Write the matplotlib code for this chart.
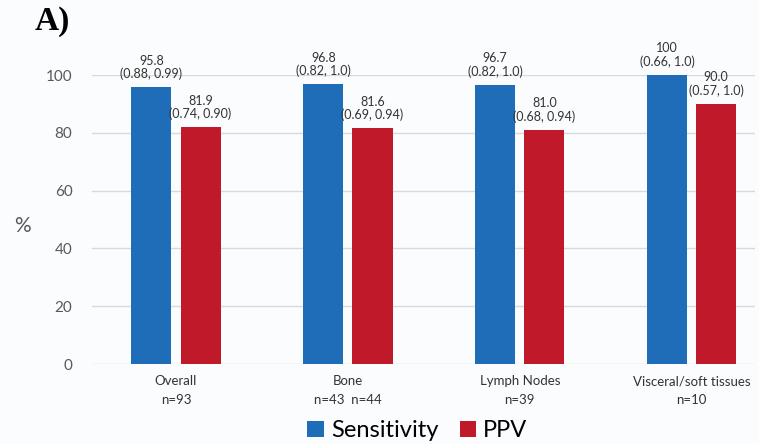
from matplotlib import pyplot as plt
import numpy as np

categories = ["Overall", "Bone", "Lymph Nodes", "Visceral/soft tissues"]
n_labels = ["n=93", "n=43  n=44", "n=39", "n=10"]
sensitivity = [95.8, 96.8, 96.7, 100]
ppv = [81.9, 81.6, 81.0, 90.0]
sens_labels = ["95.8\n(0.88, 0.99)", "96.8\n(0.82, 1.0)", "96.7\n(0.82, 1.0)", "100\n(0.66, 1.0)"]
ppv_labels = ["81.9\n(0.74, 0.90)", "81.6\n(0.69, 0.94)", "81.0\n(0.68, 0.94)", "90.0\n(0.57, 1.0)"]

BLUE = "#1f6db8"
RED = "#c01a2a"
GRAY = "#595959"


def main():
    plt.rcParams['font.family'] = ['Lato', 'DejaVu Sans']
    fig = plt.figure(figsize=(7.59, 4.44), dpi=100, facecolor="#fbfcfd")
    ax = fig.add_axes([0.121, 0.180, 0.874, 0.651])
    ax.set_facecolor("#fbfcfd")

    x = np.arange(len(categories))
    w = 0.233
    off = 0.143
    b1 = ax.bar(x - off, sensitivity, w, color=BLUE, label="Sensitivity", zorder=3)
    b2 = ax.bar(x + off, ppv, w, color=RED, label="PPV", zorder=3)

    for rect, txt in zip(b1, sens_labels):
        ax.annotate(txt, (rect.get_x() + rect.get_width() / 2, rect.get_height()),
                    xytext=(0, 5), textcoords="offset points", ha="center", va="bottom",
                    fontsize=9, color="#333333", linespacing=1.1, annotation_clip=False)
    for rect, txt in zip(b2, ppv_labels):
        ax.annotate(txt, (rect.get_x() + rect.get_width() / 2, rect.get_height()),
                    xytext=(0, 5), textcoords="offset points", ha="center", va="bottom",
                    fontsize=9, color="#333333", linespacing=1.1, annotation_clip=False)

    ax.set_ylim(0, 100)
    ax.set_xlim(-0.49, 3.37)
    ax.set_yticks(range(0, 101, 20))
    ax.tick_params(axis="y", length=0, labelsize=11, labelcolor=GRAY, pad=14)
    ax.set_xticks(x)
    ax.set_xticklabels([c + "\n" + n for c, n in zip(categories, n_labels)],
                       fontsize=9.5, color="#333333", linespacing=1.7)
    ax.tick_params(axis="x", length=0, pad=8)
    ax.grid(axis="y", color="#d9d9d9", lw=1, zorder=0)
    for s in ax.spines.values():
        s.set_visible(False)

    fig.text(0.03, 0.49, "%", fontsize=15, color=GRAY, ha="center", va="center")
    fig.text(0.045, 0.952, "A)", fontsize=24, fontweight="bold",
             family="Liberation Serif", ha="left", va="center")

    fig.legend(handles=[b1, b2], loc="center", bbox_to_anchor=(0.55, 0.03),
               ncol=2, frameon=False, fontsize=17, handlelength=0.7, handleheight=0.7,
               handletextpad=0.3, columnspacing=0.9)

    plt.savefig("out.png", dpi=100, facecolor=fig.get_facecolor())


if __name__ == "__main__":
    main()
